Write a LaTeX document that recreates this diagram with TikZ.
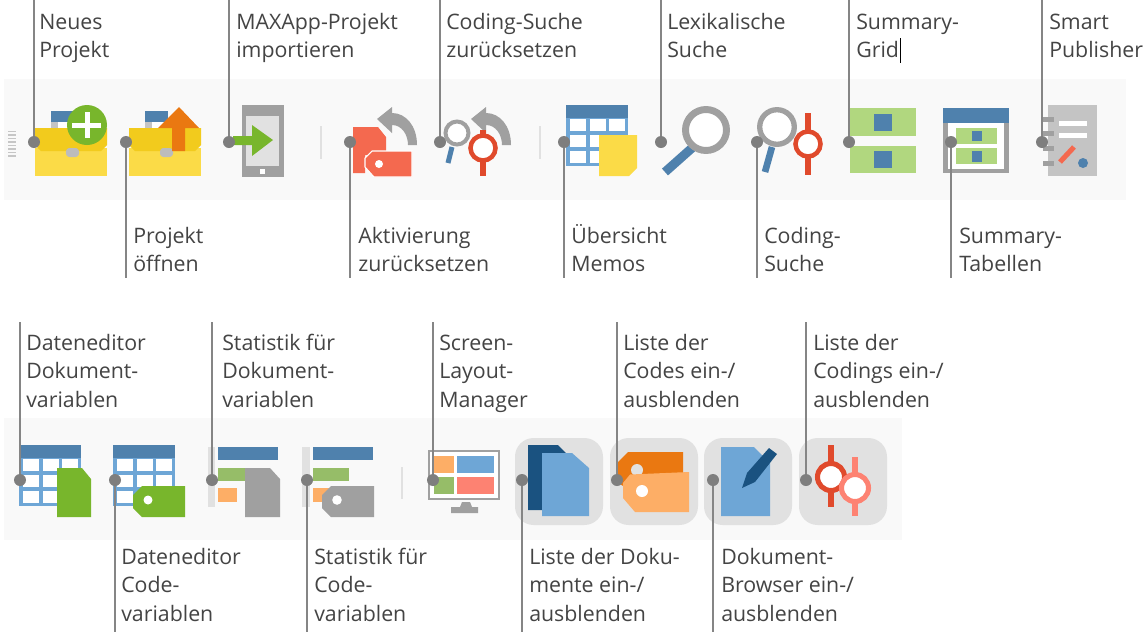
\documentclass[tikz,border=0pt]{standalone}
\usepackage{fontspec}
\setmainfont{Open Sans}
\definecolor{band}{HTML}{F9F9F9}
\definecolor{hdr}{HTML}{4F81AD}
\definecolor{gridb}{HTML}{6EA6D6}
\definecolor{yel}{HTML}{FBDB47}
\definecolor{yeld}{HTML}{F2CB1D}
\definecolor{grn}{HTML}{78B62C}
\definecolor{lgrn}{HTML}{B1D77F}
\definecolor{mgrn}{HTML}{96BD68}
\definecolor{gry}{HTML}{A0A0A0}
\definecolor{lgry}{HTML}{C4C4C4}
\definecolor{vlgry}{HTML}{E1E1E1}
\definecolor{redt}{HTML}{F4694F}
\definecolor{redd}{HTML}{E04A2C}
\definecolor{salm}{HTML}{FD8272}
\definecolor{org}{HTML}{EA7811}
\definecolor{lorg}{HTML}{FDAE66}
\definecolor{navy}{HTML}{1A5280}
\definecolor{lead}{HTML}{858585}
\definecolor{txt}{HTML}{444444}
\tikzset{
  dotnode/.style={circle,fill=lead!95!black,inner sep=0pt,minimum size=12*0.75pt},
  leader/.style={draw=lead,line width=1.9pt},
  lbl/.style={anchor=north west,align=left,inner sep=0pt,text=txt,
    font=\fontsize{16pt}{21.4pt}\selectfont},
  sepline/.style={draw=vlgry,line width=0.9pt},
  rounded button/.style={fill=vlgry,rounded corners=14pt},
}
\newcommand{\fl}{\rule{0pt}{18pt}}
\newcommand{\tablegrid}[2]{%
 \begin{scope}[shift={(#1,#2)}]
  \fill[gridb] (566,105) rectangle (628,166);
  \fill[hdr] (566,105) rectangle (628,118);
  \foreach \cx in {570,590,609}{\foreach \cy in {119,135,151}{
    \fill[white] (\cx,\cy) rectangle ++(15.5,11.5);}}
 \end{scope}}
\newcommand{\folder}[1]{%
 \begin{scope}[shift={(#1,0)}]
  \fill[hdr] (51,111) rectangle (74,122);
  \fill[white] (51,122) rectangle (74,128);
  \fill[lgry] (51,122) rectangle (58,128);
  \fill[yel] (35,148) rectangle (107,176);
  \fill[yeld] (35,128) -- (107,128) -- (107,145) -- (101,151) -- (41,151) -- (35,145) -- cycle;
  \fill[gry!70,rounded corners=2.5pt] (66,148) rectangle (79,157);
 \end{scope}}
\newcommand{\backarrow}[1]{%
 \begin{scope}[shift={(#1,0)}]
  \fill[gry] (377,119) -- (392,107) -- (392,113) .. controls (406,113) and (417,126) .. (417,145)
     -- (408,145) .. controls (408,135) and (402,125) .. (392,125) -- (392,133) -- cycle;
 \end{scope}}
\begin{document}
\begin{tikzpicture}[x=0.75pt,y=-0.75pt]
\useasboundingbox (0,0) rectangle (1147,633);
\fill[white] (0,0) rectangle (1147,633);
\fill[band] (4,79) rectangle (1126,200);
\fill[band] (4,418) rectangle (902,540);
% grip
\foreach \gy in {130.5,134,137.5,141,144.5,148,151.5,155}{\fill[gry!60] (8,\gy) rectangle (16,\gy+1.6);}
% separators
\draw[sepline] (321,126) -- (321,159);
\draw[sepline] (540,126) -- (540,159);
\draw[sepline] (402,467) -- (402,499);
% Neues Projekt
\folder{0}
\fill[grn] (87,125) circle (20);
\fill[white] (84.5,112) rectangle (89.5,138);
\fill[white] (72,122.5) rectangle (101,127.5);
% Projekt oeffnen
\folder{94}
\fill[org] (179,107) -- (199,128) -- (185,128) -- (185,151) -- (172,151) -- (172,128) -- (158,128) -- cycle;
% MAXApp
\fill[gry] (242,105) rectangle (284,177);
\fill[vlgry] (246,116) rectangle (279,166);
\fill[white] (260,169) rectangle (264.5,173.5);
\fill[grn] (233,136) -- (252,136) -- (252,125) -- (273,140) -- (252,156) -- (252,145) -- (233,145) -- cycle;
% Aktivierung
\fill[redt] (353,127) -- (378,127) -- (386,137) -- (386,155) -- (365,155) -- (365,173) -- (353,173) -- cycle;
\filldraw[fill=redt,draw=white,line width=0.8pt] (372,151) -- (412,151) -- (412,177) -- (374,177) -- (365,167) -- (365,158) -- cycle;
\fill[white] (379,164) circle (4);
\backarrow{0}
% Coding-Suche zuruecksetzen
\backarrow{94}
\draw[hdr,line width=3.8pt] (452,147) -- (448,163);
\draw[gry,line width=3pt,fill=white] (457,133) circle (11.5);
\draw[redd,line width=4.5pt] (483,130) -- (483,176);
\draw[redd,line width=3.4pt,fill=white] (483,148) circle (12.5);
% Memos
\tablegrid{0}{0}
\fill[yel] (599,135) -- (637,135) -- (637,168) -- (629,176) -- (599,176) -- cycle;
% Lexikalische Suche
\draw[hdr,line width=6.8pt] (692,148) -- (665,172);
\draw[gry,line width=5.2pt,fill=white] (706,130) circle (20.5);
% Coding-Suche
\draw[hdr,line width=5pt] (772,147) -- (765,172);
\draw[gry,line width=4pt,fill=white] (777,127) circle (17.3);
\draw[redd,line width=4.5pt] (808,113) -- (808,175);
\draw[redd,line width=3.4pt,fill=white] (808,144) circle (12.5);
% Summary-Grid
\fill[lgrn] (850,108) rectangle (916,136);
\fill[lgrn] (850,146) rectangle (916,173);
\fill[hdr] (874,114) rectangle (892,131);
\fill[hdr] (874,151) rectangle (892,168);
% Summary-Tabellen
\fill[gry] (943,108) rectangle (1009,173);
\fill[white] (948,123) rectangle (1004,169);
\fill[hdr] (943,108) rectangle (1009,123);
\fill[lgrn] (956,128) rectangle (997,144);
\fill[lgrn] (956,148) rectangle (997,164);
\fill[hdr] (972,131) rectangle (982,141);
\fill[hdr] (972,151) rectangle (982,162);
% Smart Publisher
\fill[lgry] (1048,105) rectangle (1097,176);
\foreach \ry in {116.5,131,145.5,160.5}{\fill[gry] (1043,\ry) rectangle (1054,\ry+5);}
\fill[white] (1059,121) rectangle (1087,126);
\fill[white] (1059,133) rectangle (1087,138);
\draw[redt,line width=3.8pt] (1060,162) -- (1074,147);
\fill[hdr] (1083,163) circle (5);
% second row
\tablegrid{-547}{340}
\fill[grn] (57,468) -- (82,468) -- (91,479) -- (91,517) -- (57,517) -- cycle;
\tablegrid{-453}{340}
\fill[grn] (142,486) -- (185,486) -- (185,517) -- (142,517) -- (133,508) -- (133,495) -- cycle;
\fill[white] (148,500) circle (4.5);
\fill[vlgry] (208,447) rectangle (215,507);
\fill[hdr] (218,447) rectangle (278,460);
\fill[mgrn] (218,468) rectangle (260,481);
\fill[lorg] (218,488) rectangle (237,502);
\fill[gry] (245,468) -- (270,468) -- (280,479) -- (280,517) -- (245,517) -- cycle;
\fill[vlgry] (302,447) rectangle (310,507);
\fill[hdr] (313,447) rectangle (373,460);
\fill[mgrn] (313,468) rectangle (349,481);
\fill[lorg] (313,488) rectangle (332,502);
\fill[gry] (331,486) -- (374,486) -- (374,517) -- (331,517) -- (322,508) -- (322,495) -- cycle;
\fill[white] (337,500) circle (4.8);
% monitor
\draw[gry,line width=1.9pt,fill=white] (429,451) rectangle (499,499);
\fill[lorg] (434,456) rectangle (454,473);
\fill[gridb] (457,456) rectangle (494,473);
\fill[mgrn] (434,477) rectangle (454,494);
\fill[salm] (457,477) rectangle (494,494);
\fill[gry] (462,502) -- (470,502) -- (472,507) -- (478,507) -- (478,513) -- (451,513) -- (451,507) -- (460,507) -- cycle;
% buttons
\fill[rounded button] (515,438) rectangle (603,525);
\fill[rounded button] (610,438) rectangle (698,525);
\fill[rounded button] (704,438) rectangle (792,525);
\fill[rounded button] (799,438) rectangle (887,525);
% docs
\fill[navy] (528,445) -- (558,445) -- (566,453) -- (566,510) -- (528,510) -- cycle;
\fill[gridb] (542,453) -- (572,453) -- (589,468) -- (589,516) -- (542,516) -- cycle;
% codes
\fill[org] (628,452) -- (683,452) -- (683,490) -- (630,490) -- (618,483) -- (618,462) -- cycle;
\fill[vlgry] (637,470) circle (6);
\fill[lorg] (630,474.5) -- (689,472) -- (689,512) -- (635,512) -- (623,498) -- (623,483) -- cycle;
\fill[white] (642,491) circle (6);
% browser
\fill[gridb] (721,447) -- (754,447) -- (770,463) -- (770,516) -- (721,516) -- cycle;
\fill[navy] (742,488) -- (747,473) -- (769,448) -- (777,454) -- (755,482) -- cycle;
% codings
\draw[redd,line width=5pt] (831,445) -- (831,507);
\draw[redd,line width=3.8pt,fill=white] (831,477) circle (13.5);
\draw[salm,line width=5pt] (855,457) -- (855,516);
\draw[salm,line width=3.8pt,fill=white] (855,488) circle (13.5);
% cursor
\draw[black,line width=1.1pt] (900.5,38) -- (900.5,63);
% labels
\node[lbl] (t1) at (39,5) {\fl Neues\\Projekt};
\node[lbl] (t2) at (133,219) {\fl Projekt\\öffnen};
\node[lbl] (t3) at (236,5) {\fl MAXApp-Projekt\\importieren};
\node[lbl] (t4) at (358,219) {\fl Aktivierung\\zurücksetzen};
\node[lbl] (t5) at (446,5) {\fl Coding-Suche\\zurücksetzen};
\node[lbl] (t6) at (571,219) {\fl Übersicht\\Memos};
\node[lbl] (t7) at (667,5) {\fl Lexikalische\\Suche};
\node[lbl] (t8) at (764,219) {\fl Coding-\\Suche};
\node[lbl] (t9) at (856,5) {\fl Summary-\\Grid};
\node[lbl] (t10) at (959,219) {\fl Summary-\\Tabellen};
\node[lbl] (t11) at (1049,5) {\fl Smart\\Publisher};
\node[lbl] (b1) at (26,326) {\fl Dateneditor\\Dokument-\\variablen};
\node[lbl] (b2) at (121,540) {\fl Dateneditor\\Code-\\variablen};
\node[lbl] (b3) at (222,326) {\fl Statistik für\\Dokument-\\variablen};
\node[lbl] (b4) at (314,540) {\fl Statistik für\\Code-\\variablen};
\node[lbl] (b5) at (439,326) {\fl Screen-\\Layout-\\Manager};
\node[lbl] (b6) at (529,540) {\fl Liste der Doku-\\mente ein-/\\ausblenden};
\node[lbl] (b7) at (623,326) {\fl Liste der\\Codes ein-/\\ausblenden};
\node[lbl] (b8) at (721,540) {\fl Dokument-\\Browser ein-/\\ausblenden};
\node[lbl] (b9) at (813,326) {\fl Liste der\\Codings ein-/\\ausblenden};
% connectors
\foreach \nm/\px/\py/\ey in {
  a/34/142/0, c/229/142/0, e/440/142/0, g/661/142/0, i/849/142/0, k/1042/142/0,
  b/126/142/278, d/350/142/278, f/564/142/278, h/757/142/278, j/951/142/278,
  m/20/480/322, o/212/480/322, q/433/480/322, s/617/480/322, u/806/480/322,
  n/115/480/632, p/307/480/632, r/522/480/632, v/713/480/632}{
  \node[dotnode] (dot\nm) at (\px,\py) {};
  \coordinate (end\nm) at (\px,\ey);
  \draw[leader] (dot\nm) -- (end\nm);
}
\end{tikzpicture}
\end{document}
